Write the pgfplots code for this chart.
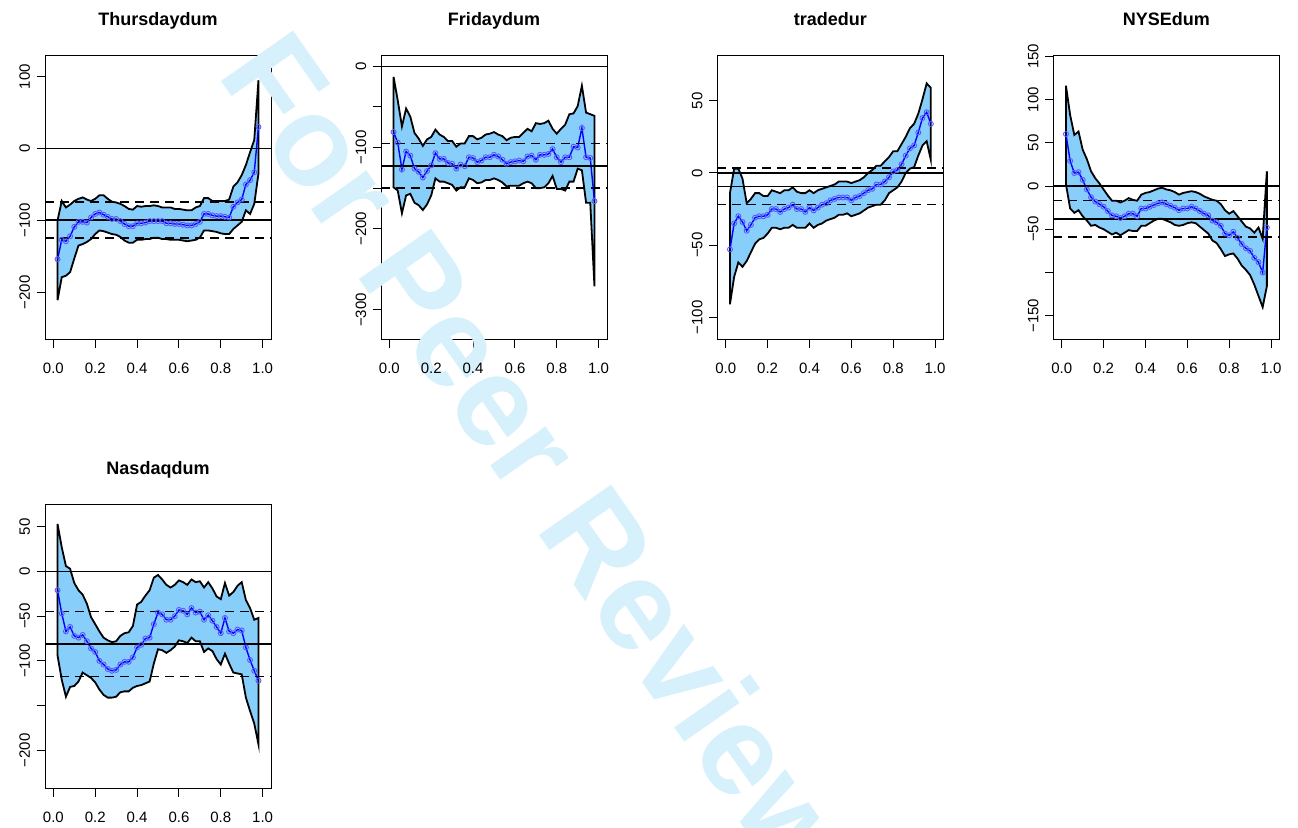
\documentclass[border=0pt]{standalone}
\usepackage{fontspec}
\setmainfont{Liberation Sans}
\usepackage{pgfplots}
\pgfplotsset{compat=1.18}
\usepackage{pgfplotstable}
\usepgfplotslibrary{fillbetween}
\definecolor{band}{RGB}{135,206,250}
\definecolor{wm}{RGB}{214,240,252}

\pgfplotstableread{
t lo est hi
0.02 -211 -154 -100
0.04 -179 -127 -73
0.06 -177 -129 -82
0.08 -172 -122 -78
0.10 -153 -109 -73
0.12 -135 -102 -70
0.14 -133 -102 -68
0.16 -130 -103 -71
0.18 -126 -96 -73
0.20 -119 -91 -70
0.22 -114 -89 -65
0.24 -115 -92 -65
0.26 -117 -95 -70
0.28 -119 -98 -74
0.30 -120 -98 -75
0.32 -123 -101 -77
0.34 -128 -105 -80
0.36 -131 -108 -84
0.38 -131 -108 -85
0.40 -127 -104 -80
0.42 -127 -104 -81
0.44 -126 -103 -80
0.46 -126 -101 -80
0.48 -124 -101 -79
0.50 -124 -101 -80
0.52 -126 -101 -82
0.54 -126 -104 -82
0.56 -127 -104 -82
0.58 -127 -105 -84
0.60 -127 -105 -84
0.62 -128 -106 -85
0.64 -129 -107 -86
0.66 -128 -107 -86
0.68 -127 -105 -82
0.70 -124 -102 -80
0.72 -114 -91 -69
0.74 -114 -91 -69
0.76 -115 -93 -73
0.78 -116 -94 -73
0.80 -118 -94 -73
0.82 -119 -95 -73
0.84 -119 -96 -71
0.86 -112 -81 -53
0.88 -107 -75 -47
0.90 -102 -71 -37
0.92 -86 -50 -23
0.94 -91 -44 -5
0.96 -77 -33 12
0.98 -35 30 95
}\dataA

\pgfplotstableread{
t lo est hi
0.02 -149 -81 -13
0.04 -153 -94 -42
0.06 -181 -127 -74
0.08 -159 -105 -52
0.10 -157 -110 -62
0.12 -168 -126 -82
0.14 -171 -130 -89
0.16 -177 -137 -98
0.18 -170 -129 -90
0.20 -159 -122 -87
0.22 -138 -107 -78
0.24 -142 -114 -84
0.26 -142 -114 -87
0.28 -144 -119 -92
0.30 -146 -120 -92
0.32 -153 -126 -99
0.34 -149 -121 -95
0.36 -149 -123 -95
0.38 -138 -112 -86
0.40 -140 -113 -86
0.42 -144 -118 -90
0.44 -143 -116 -88
0.46 -140 -112 -84
0.48 -140 -112 -83
0.50 -138 -109 -81
0.52 -140 -111 -84
0.54 -143 -115 -86
0.56 -148 -120 -91
0.58 -147 -118 -88
0.60 -147 -117 -87
0.62 -147 -116 -87
0.64 -144 -117 -82
0.66 -142 -111 -77
0.68 -144 -110 -80
0.70 -150 -115 -70
0.72 -150 -109 -71
0.74 -149 -109 -70
0.76 -144 -108 -67
0.78 -135 -102 -77
0.80 -151 -112 -83
0.82 -151 -118 -77
0.84 -153 -112 -72
0.86 -142 -112 -59
0.88 -142 -99 -58
0.90 -126 -100 -49
0.92 -128 -76 -24
0.94 -168 -112 -57
0.96 -168 -113 -59
0.98 -271 -166 -61
}\dataB

\pgfplotstableread{
t lo est hi
0.02 -91 -53 -14
0.04 -72 -35 3
0.06 -62 -30 3
0.08 -65 -34 -4
0.10 -61 -40 -21
0.12 -55 -36 -18
0.14 -49 -31 -14
0.16 -46 -30 -14
0.18 -45 -30 -16
0.20 -42 -29 -16
0.22 -38 -25 -12
0.24 -38 -25 -13
0.26 -39 -27 -14
0.28 -38 -25 -12
0.30 -38 -24 -12
0.32 -36 -22 -10
0.34 -38 -25 -13
0.36 -38 -25 -14
0.38 -38 -27 -14
0.40 -35 -24 -12
0.42 -38 -26 -14
0.44 -36 -24 -12
0.46 -35 -22 -11
0.48 -33 -21 -10
0.50 -32 -19 -9
0.52 -31 -18 -8
0.54 -29 -17 -6
0.56 -29 -17 -6
0.58 -28 -17 -6
0.60 -30 -19 -7
0.62 -29 -17 -6
0.64 -28 -16 -5
0.66 -26 -14 -3
0.68 -24 -12 0
0.70 -23 -11 2
0.72 -22 -8 5
0.74 -22 -8 5
0.76 -19 -6 8
0.78 -14 -3 11
0.80 -12 1 15
0.82 -10 2 15
0.84 -6 6 20
0.86 0 12 25
0.88 3 17 31
0.90 4 19 34
0.92 12 28 41
0.94 19 38 51
0.96 22 42 62
0.98 9 34 59
}\dataC

\pgfplotstableread{
t lo est hi
0.02 2 60 116
0.04 -26 29 82
0.06 -31 15 59
0.08 -28 16 63
0.10 -35 7 42
0.12 -40 -4 31
0.14 -46 -13 17
0.16 -45 -18 9
0.18 -48 -21 3
0.20 -50 -24 -4
0.22 -53 -29 -11
0.24 -56 -34 -17
0.26 -54 -35 -17
0.28 -57 -37 -19
0.30 -54 -35 -17
0.32 -51 -32 -14
0.34 -52 -32 -16
0.36 -52 -35 -17
0.38 -46 -26 -10
0.40 -46 -26 -8
0.42 -43 -24 -7
0.44 -40 -22 -5
0.46 -38 -20 -3
0.48 -38 -19 -2
0.50 -40 -21 -4
0.52 -42 -23 -5
0.54 -45 -25 -7
0.56 -46 -28 -10
0.58 -45 -26 -8
0.60 -43 -26 -7
0.62 -42 -24 -6
0.64 -43 -26 -7
0.66 -47 -29 -9
0.68 -51 -32 -12
0.70 -55 -34 -14
0.72 -63 -40 -16
0.74 -66 -42 -17
0.76 -73 -46 -21
0.78 -81 -55 -28
0.80 -79 -57 -32
0.82 -78 -53 -29
0.84 -84 -60 -35
0.86 -92 -67 -41
0.88 -97 -72 -47
0.90 -103 -75 -49
0.92 -114 -83 -54
0.94 -127 -88 -48
0.96 -140 -100 -61
0.98 -116 -48 17
}\dataD

\pgfplotstableread{
t lo est hi
0.02 -94 -21 53
0.04 -121 -47 27
0.06 -140 -67 6
0.08 -129 -62 3
0.10 -128 -72 -13
0.12 -123 -74 -21
0.14 -113 -71 -26
0.16 -116 -78 -36
0.18 -119 -86 -51
0.20 -124 -90 -59
0.22 -132 -100 -67
0.24 -138 -104 -74
0.26 -141 -109 -77
0.28 -141 -111 -79
0.30 -140 -110 -78
0.32 -135 -104 -72
0.34 -134 -101 -69
0.36 -134 -101 -68
0.38 -130 -96 -61
0.40 -128 -85 -37
0.42 -127 -82 -34
0.44 -125 -75 -27
0.46 -123 -74 -21
0.48 -103 -59 -7
0.50 -87 -46 -4
0.52 -88 -48 -9
0.54 -91 -54 -15
0.56 -88 -54 -18
0.58 -84 -50 -15
0.60 -77 -43 -10
0.62 -78 -44 -12
0.64 -80 -48 -15
0.66 -74 -41 -9
0.68 -78 -46 -12
0.70 -78 -45 -11
0.72 -90 -54 -18
0.74 -86 -49 -12
0.76 -89 -55 -19
0.78 -98 -62 -28
0.80 -104 -69 -31
0.82 -92 -52 -13
0.84 -103 -67 -27
0.86 -113 -69 -23
0.88 -114 -65 -16
0.90 -115 -66 -12
0.92 -141 -85 -32
0.94 -156 -99 -41
0.96 -170 -111 -54
0.98 -193 -122 -52
}\dataE

\pgfplotsset{
  rpanel/.style={
    scale only axis, width=113pt, height=142pt, anchor=south west,
    xmin=-0.04, xmax=1.04,
    xtick={0,0.2,0.4,0.6,0.8,1}, xticklabels={0.0,0.2,0.4,0.6,0.8,1.0},
    tick pos=left, tick align=outside, major tick length=4.15pt,
    tick style={black, line width=0.5pt},
    axis line style={line width=0.5pt},
    ticklabel style={font=\fontsize{7.5}{9}\selectfont},
    xticklabel style={anchor=base, yshift=-12.85pt},
    yticklabel style={xshift=-3.35pt, rotate=90, anchor=base},
    title style={font=\bfseries\fontsize{9}{11}\selectfont, anchor=base, at={(0.5,1)}, yshift=9pt},
  },
  hline/.style={black, line width=0.75pt},
  hdash/.style={black, line width=0.75pt, dash pattern=on 4.5pt off 3pt},
  estline/.style={blue, line width=0.7pt, mark=o, mark size=1.25pt, mark options={blue!65!white, line width=0.45pt, solid}},
}

\newcommand{\panel}[4]{%
  \addplot[draw=none, name path=upper] table[x=t,y=hi]{#1};
  \addplot[draw=none, name path=lower] table[x=t,y=lo]{#1};
  \addplot[fill=band, draw=black, line width=0.9pt] fill between[of=upper and lower];
  \addplot[estline] table[x=t,y=est]{#1};
  \addplot[hline] coordinates {(-0.04,0) (1.04,0)};
  \addplot[hline] coordinates {(-0.04,#2) (1.04,#2)};
  \addplot[hdash] coordinates {(-0.04,#3) (1.04,#3)};
  \addplot[hdash] coordinates {(-0.04,#4) (1.04,#4)};
}

\begin{document}
\begin{tikzpicture}
\node[rotate=-55, anchor=base, text=wm, font=\bfseries\fontsize{64}{64}\selectfont] at (251pt,173pt) {For Peer Review};

\begin{axis}[rpanel, at={(22.5pt,244pt)}, title={Thursdaydum},
  ymin=-266.4, ymax=128.8,
  ytick={-200,-100,0,100}, yticklabels={−200,−100,0,100}]
\panel{\dataA}{-99.5}{-74.4}{-124.6}
\end{axis}

\begin{axis}[rpanel, at={(190.5pt,244pt)}, title={Fridaydum},
  ymin=-337, ymax=12.7,
  ytick={-300,-250,-200,-150,-100,-50,0}, yticklabels={−300,,−200,,−100,,0}]
\panel{\dataB}{-122.6}{-95}{-150}
\end{axis}

\begin{axis}[rpanel, at={(358.7pt,244pt)}, title={tradedur},
  ymin=-115.7, ymax=81,
  ytick={-100,-50,0,50}, yticklabels={−100,−50,0,50}]
\panel{\dataC}{-9.3}{3.5}{-22}
\end{axis}

\begin{axis}[rpanel, at={(526.7pt,244pt)}, title={NYSEdum},
  ymin=-178, ymax=150.3,
  ytick={-150,-100,-50,0,50,100,150}, yticklabels={−150,,−50,0,50,100,150}]
\panel{\dataD}{-38}{-16.7}{-59}
\end{axis}

\begin{axis}[rpanel, at={(22.5pt,19.85pt)}, title={Nasdaqdum},
  ymin=-242.3, ymax=75,
  ytick={-200,-150,-100,-50,0,50}, yticklabels={−200,,−100,−50,0,50}]
\panel{\dataE}{-81}{-44.6}{-117.5}
\end{axis}

\pgfresetboundingbox
\path[use as bounding box] (0,0) rectangle (649pt,414pt);
\end{tikzpicture}
\end{document}
